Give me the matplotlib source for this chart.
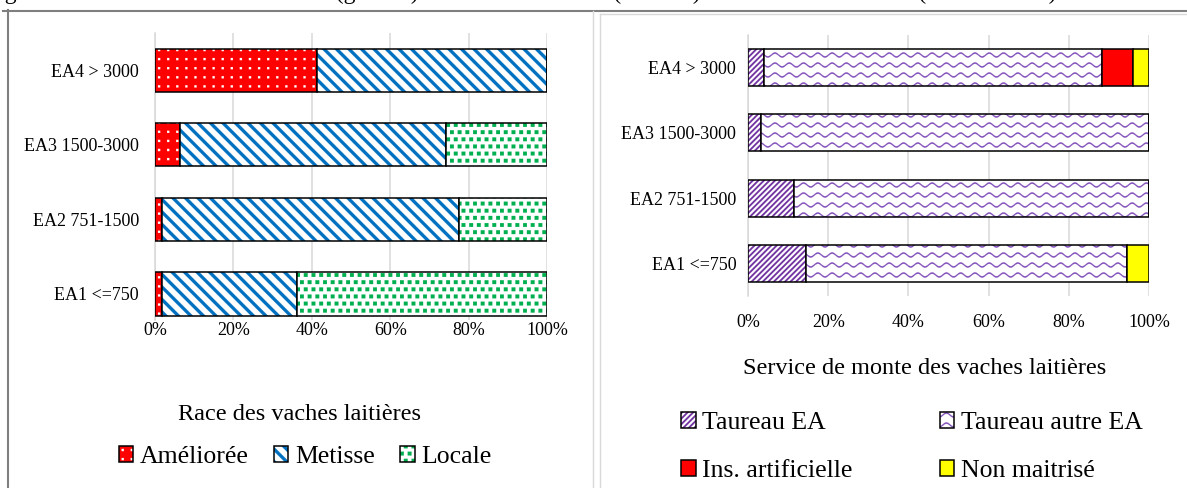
import warnings
import numpy as np
import matplotlib
matplotlib.use('Agg')
import matplotlib.pyplot as plt
from matplotlib import hatch as mhatch
from matplotlib.colors import to_rgba
from matplotlib.lines import Line2D
from matplotlib.path import Path

warnings.filterwarnings('ignore')

classes = ['EA1 <=750', 'EA2 751-1500', 'EA3 1500-3000', 'EA4 > 3000']

# Race des vaches laitieres (% des EA)
race_labels = ['Améliorée', 'Metisse', 'Locale']
ameliore = [1.7, 1.7, 6.4, 41.2]
metisse = [34.4, 75.9, 67.8, 58.8]
locale = [63.9, 22.4, 25.8, 0.0]

# Service de monte (% des EA)
monte_labels = ['Taureau EA', 'Taureau autre EA', 'Ins. artificielle', 'Non maitrisé']
taureau_ea = [14.5, 11.5, 3.2, 4.0]
taureau_autre = [79.9, 88.5, 96.8, 84.2]
insemination = [0.0, 0.0, 0.0, 7.9]
non_maitrise = [5.6, 0.0, 0.0, 3.9]

xticks = [0, 20, 40, 60, 80, 100]
xticklabels = ['0%', '20%', '40%', '60%', '80%', '100%']

caption = ("Figure 11 : Race des vaches laitières (gauche) et service de monte "
           "(à droite) selon les classes d'EA (en % des EA)")


# --- motifs de remplissage type Excel, dessines comme des polygones pleins
# (Agg remplit les chemins de hachure, l'epaisseur est donc dans la geometrie)
SQ = [Path.MOVETO, Path.LINETO, Path.LINETO, Path.LINETO, Path.CLOSEPOLY]


def squares(centres, s):
    sq = np.array([[-s, -s], [s, -s], [s, s], [-s, s], [-s, -s]])
    return [sq + c for c in centres]


class Motif(mhatch.HatchPatternBase):
    char = None

    def __init__(self, hatch, density):
        self.polys = self.build() if self.char in hatch else []
        self.num_vertices = 5 * len(self.polys)

    def set_vertices_and_codes(self, vertices, codes):
        for k, poly in enumerate(self.polys):
            vertices[5 * k:5 * k + 5] = poly
            codes[5 * k:5 * k + 5] = SQ


class DotGrid(Motif):
    # 'p' : petits points blancs alignes
    char = 'p'

    def build(self):
        n = 11
        return squares([((j + 0.5) / n, (i + 0.5) / n)
                        for i in range(n) for j in range(n)], 0.011)


class SquareGrid(Motif):
    # 'q' : petits carres en quinconce
    char = 'q'

    def build(self):
        nr, nc = 14, 13
        pts = []
        for i in range(nr):
            off = 0.25 if i % 2 == 0 else 0.75
            pts += [((j + off) / nc, (i + 0.5) / nr) for j in range(nc)]
        return squares(pts, 0.019)


def bands(n, w, sign):
    # bandes diagonales ; sign=+1 -> '\', sign=-1 -> '/'
    out = []
    t0, t1 = -0.3, 1.3
    for k in range(-2, 2 * n + 2):
        c = k / n
        if sign > 0:
            p = [(c - w / 2 - t0, t0), (c - w / 2 - t1, t1),
                 (c + w / 2 - t1, t1), (c + w / 2 - t0, t0)]
        else:
            c = c - 1
            p = [(c - w / 2 + t0, t0), (c - w / 2 + t1, t1),
                 (c + w / 2 + t1, t1), (c + w / 2 + t0, t0)]
        out.append(np.array(p + [p[0]]))
    return out


class BackBands(Motif):
    char = 'b'

    def build(self):
        return bands(8, 0.045, +1)


class FwdBands(Motif):
    char = 'f'

    def build(self):
        return bands(18, 0.024, -1)


class WaveHatch(mhatch.HatchPatternBase):
    # 'w' : vagues horizontales (bande fine fermee)
    def __init__(self, hatch, density):
        self.rows = 10 if 'w' in hatch else 0
        self.npts = 71
        self.num_vertices = self.rows * (2 * self.npts + 1)

    def set_vertices_and_codes(self, vertices, codes):
        t = np.linspace(0, 1, self.npts)
        m = 2 * self.npts + 1
        h = 0.0075
        for i in range(self.rows):
            y = (i + 0.5) / self.rows + 0.02 * np.sin(2 * np.pi * 7 * t)
            xs = np.concatenate([t, t[::-1], [0]])
            ys = np.concatenate([y + h, (y - h)[::-1], [0]])
            vertices[i * m:(i + 1) * m, 0] = xs
            vertices[i * m:(i + 1) * m, 1] = ys
            codes[i * m:(i + 1) * m] = Path.LINETO
            codes[i * m] = Path.MOVETO
            codes[(i + 1) * m - 1] = Path.CLOSEPOLY


mhatch._hatch_types.extend([DotGrid, SquareGrid, BackBands, FwdBands, WaveHatch])

plt.rcParams['font.family'] = ['Liberation Serif', 'DejaVu Serif']
plt.rcParams['hatch.linewidth'] = 0.1

W, H = 1187, 488


def fx(x):
    return x / W


def fy(y):
    return 1 - y / H


fig = plt.figure(figsize=(W / 100, H / 100), dpi=100)

ax1 = fig.add_axes([fx(155), fy(320), (547 - 155) / W, (320 - 33) / H])
ax2 = fig.add_axes([fx(748), fy(296), (1149 - 748) / W, (296 - 35) / H])


def stack(ax, series, labels, faces, hcols, hatches, height):
    y = np.arange(len(classes))
    left = np.zeros(len(classes))
    out = []
    for vals, lab, fc, hc, h in zip(series, labels, faces, hcols, hatches):
        bars = ax.barh(y, vals, height=height, left=left, color=fc,
                       edgecolor='black', linewidth=1.1, hatch=h,
                       label=lab, zorder=3)
        for p in bars:
            p._hatch_color = to_rgba(hc)
        left += np.array(vals)
        out.append(bars)
    return out


race_bars = stack(ax1, [ameliore, metisse, locale], race_labels,
                  ['#FF0000', 'white', 'white'],
                  ['white', '#0070C0', '#00B050'],
                  ['p', 'b', 'q'], 0.58)

monte_bars = stack(ax2, [taureau_ea, taureau_autre, insemination, non_maitrise],
                   monte_labels,
                   ['white', 'white', '#FF0000', '#FFFF00'],
                   ['#7030A0', '#8250BA', 'black', 'black'],
                   ['f', 'w', None, None], 0.57)

for ax, ypad, xpad, ylo in ((ax1, 11.5, 1.5, -0.35), (ax2, 8.5, 13, -0.5)):
    ax.set_xlim(0, 100)
    ax.set_ylim(ylo, 3.5)
    ax.set_xticks(xticks)
    ax.set_xticklabels(xticklabels)
    ax.set_yticks(range(len(classes)))
    ax.set_yticklabels(classes)
    ax.tick_params(axis='both', length=0, labelsize=13)
    ax.tick_params(axis='y', pad=ypad)
    ax.tick_params(axis='x', pad=xpad)
    ax.grid(axis='x', color='#d9d9d9', lw=1.1)
    ax.set_axisbelow(True)
    for s in ['top', 'right', 'bottom']:
        ax.spines[s].set_visible(False)
    ax.spines['left'].set_color('#d9d9d9')
    ax.spines['left'].set_linewidth(1.1)

fig.text(fx(300), fy(414), 'Race des vaches laitières', ha='center', va='center', fontsize=17.5)
fig.text(fx(925), fy(368), 'Service de monte des vaches laitières', ha='center', va='center', fontsize=17.5)

fig.legend(handles=race_bars, labels=race_labels, loc='center',
           bbox_to_anchor=(fx(305), fy(457)), ncol=3, frameon=False,
           fontsize=18.5, handlelength=0.56, handleheight=0.56,
           handletextpad=0.25, columnspacing=1.0, borderaxespad=0, borderpad=0)

# ordre colonne par colonne pour avoir les lignes comme dans Excel
order = [0, 2, 1, 3]
fig.legend(handles=[monte_bars[i] for i in order],
           labels=[monte_labels[i] for i in order], loc='center',
           bbox_to_anchor=(fx(912), fy(447)), ncol=2, frameon=False,
           fontsize=18.5, handlelength=0.56, handleheight=0.56,
           handletextpad=0.25, columnspacing=3.4, labelspacing=1.0,
           borderaxespad=0, borderpad=0)

# cadres des deux graphiques
dark = '#7f7f7f'
light = '#d9d9d9'
fig.add_artist(Line2D([fx(3), 1], [fy(10.5), fy(10.5)], color=dark, lw=1.5))
fig.add_artist(Line2D([fx(7.5), fx(7.5)], [fy(10), 0], color=dark, lw=1.5))
fig.add_artist(Line2D([fx(593), fx(593)], [fy(11), 0], color=light, lw=1.0))
fig.add_artist(Line2D([fx(600), 1], [fy(14), fy(14)], color=light, lw=1.0))
fig.add_artist(Line2D([fx(600), fx(600)], [fy(14), 0], color=light, lw=1.0))

# legende de figure, coupee en haut de l'image comme dans l'original
fig.text(fx(-15), fy(-1), caption, ha='left', va='baseline', fontsize=17)

fig.savefig('out.png', dpi=100)
